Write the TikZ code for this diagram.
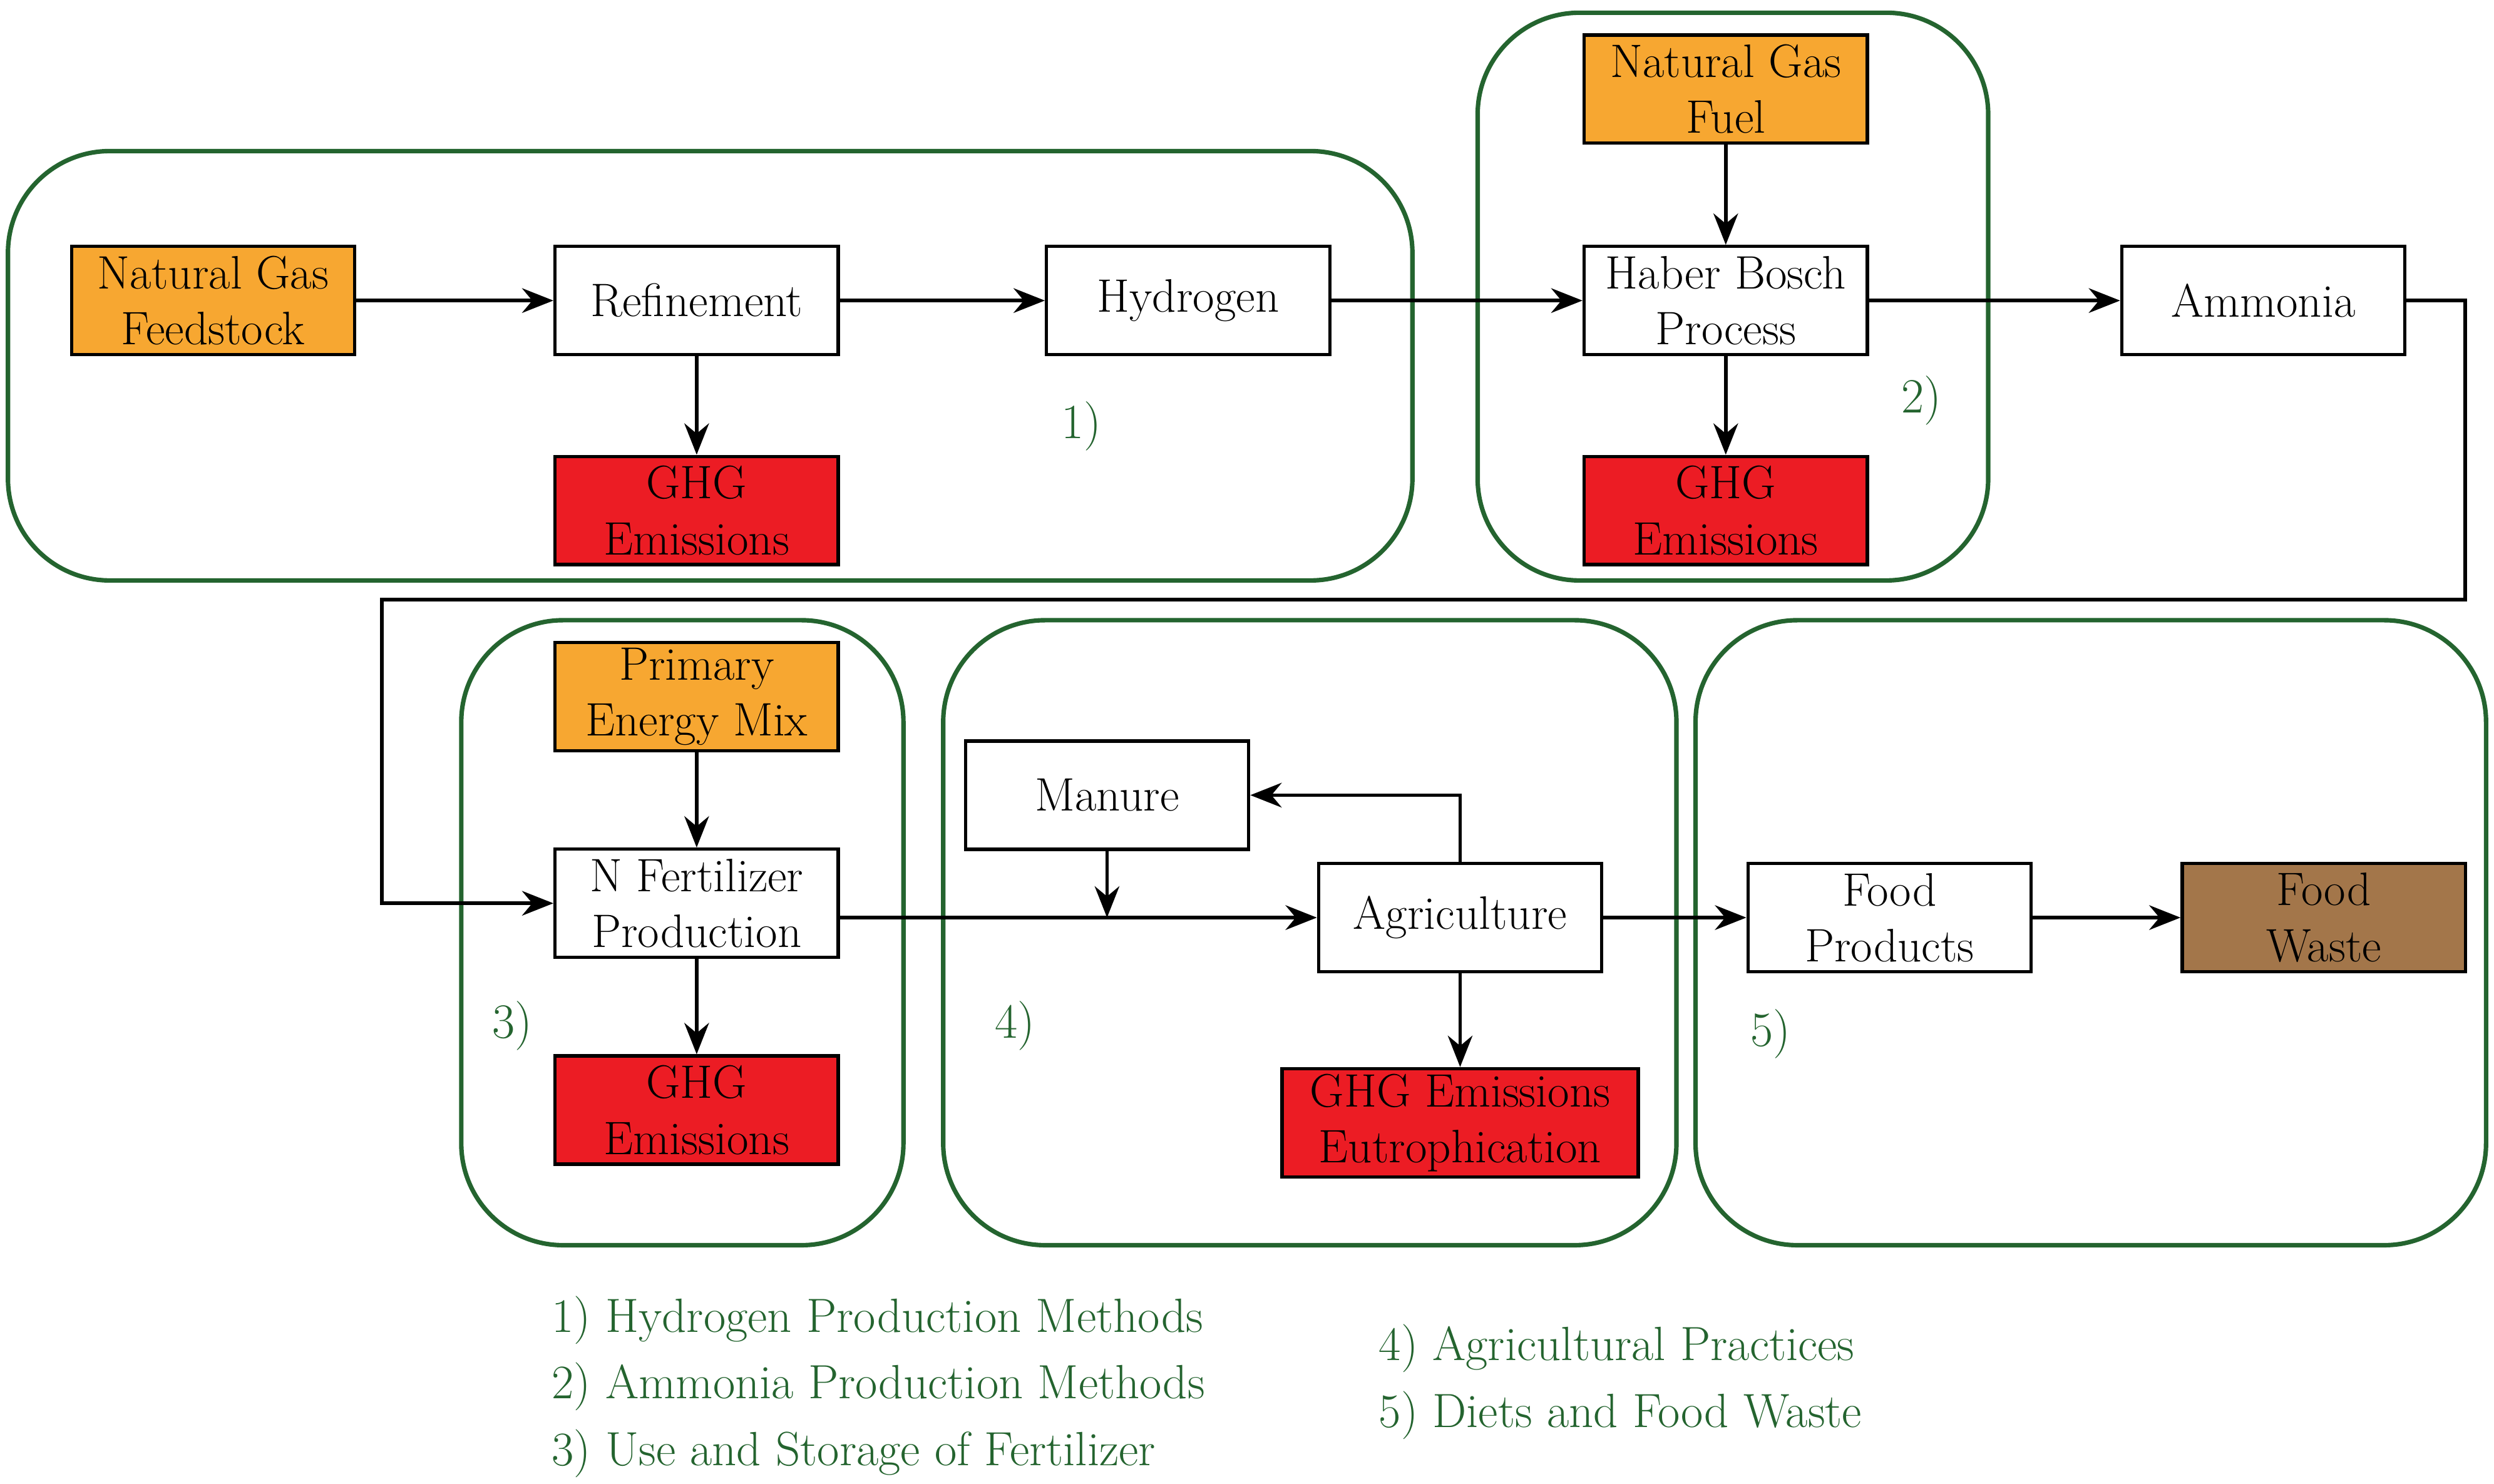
\documentclass[tikz,border=0pt]{standalone}
\usetikzlibrary{arrows.meta}
\definecolor{ora}{HTML}{F7A731}
\definecolor{rd}{HTML}{EC1C24}
\definecolor{brn}{HTML}{A3764A}
\definecolor{grn}{HTML}{24642F}
\begin{document}
\begin{tikzpicture}[x=0.025cm,y=-0.025cm,
  box/.style={draw=black,line width=1.5pt,minimum width=4.45cm,minimum height=1.7cm,inner sep=1pt,align=center,font=\fontsize{21}{25}\selectfont},
  grp/.style={draw=grn,line width=2pt,rounded corners=1.6cm},
  lab/.style={text=grn,font=\fontsize{22}{26}\selectfont},
  leg/.style={text=grn,font=\fontsize{21.5}{25}\selectfont,anchor=west},
  arr/.style={line width=1.6pt,-{Stealth[length=14pt,width=11pt]}},
  ln/.style={line width=1.6pt}]
\useasboundingbox (0,0) rectangle (1568,933);
\draw[grp] (5,95) rectangle (888,365);
\draw[grp] (929,8) rectangle (1250,365);
\draw[grp] (290,390) rectangle (568,783);
\draw[grp] (593,390) rectangle (1054,783);
\draw[grp] (1066,390) rectangle (1563,783);
\node[box,fill=ora] (ngf) at (134,189) {Natural Gas\\Feedstock};
\node[box,fill=white] (ref) at (438,189) {Refinement};
\node[box,fill=white] (hyd) at (747,189) {Hydrogen};
\node[box,fill=rd] (g1) at (438,321) {GHG\\Emissions};
\node[box,fill=ora] (ngfu) at (1085,56) {Natural Gas\\Fuel};
\node[box,fill=white] (hb) at (1085,189) {Haber Bosch\\Process};
\node[box,fill=rd] (g2) at (1085,321) {GHG\\Emissions};
\node[box,fill=white] (amm) at (1423,189) {Ammonia};
\node[box,fill=ora] (pem) at (438,438) {Primary\\Energy Mix};
\node[box,fill=white] (nf) at (438,568) {N Fertilizer\\Production};
\node[box,fill=rd] (g3) at (438,698) {GHG\\Emissions};
\node[box,fill=white] (man) at (696,500) {Manure};
\node[box,fill=white] (agr) at (918,577) {Agriculture};
\node[box,fill=rd,minimum width=5.6cm] (ge) at (918,706) {GHG Emissions\\Eutrophication};
\node[box,fill=white] (fp) at (1188,577) {Food\\Products};
\node[box,fill=brn] (fw) at (1461,577) {Food\\Waste};
\draw[arr] (ngf) -- (ref);
\draw[arr] (ref) -- (hyd);
\draw[arr] (ref) -- (g1);
\draw[arr] (hyd) -- (hb);
\draw[arr] (ngfu) -- (hb);
\draw[arr] (hb) -- (g2);
\draw[arr] (hb) -- (amm);
\coordinate (c1) at (1550,189);
\coordinate (c2) at (1550,377);
\coordinate (c3) at (240,377);
\coordinate (c4) at (240,568);
\draw[arr] (amm.east) -- (c1) -- (c2) -- (c3) -- (c4) -- (nf.west);
\draw[arr] (pem) -- (nf);
\draw[arr] (nf) -- (g3);
\coordinate (nfo) at (527,577);
\coordinate (mj) at (696,577);
\draw[arr] (nfo) -- (agr.west);
\draw[arr] (man.south) -- (mj);
\coordinate (at) at (918,500);
\draw[arr] (agr.north) -- (at) -- (man.east);
\draw[arr] (agr) -- (ge);
\draw[arr] (agr) -- (fp);
\draw[arr] (fp) -- (fw);
\node[lab] (l1) at (680,268) {1)};
\node[lab] (l2) at (1208,252) {2)};
\node[lab] (l3) at (322,645) {3)};
\node[lab] (l4) at (638,645) {4)};
\node[lab] (l5) at (1113,650) {5)};
\node[leg] (t1) at (342,830) {1) Hydrogen Production Methods};
\node[leg] (t2) at (342,872) {2) Ammonia Production Methods};
\node[leg] (t3) at (342,914) {3) Use and Storage of Fertilizer};
\node[leg] (t4) at (862,848) {4) Agricultural Practices};
\node[leg] (t5) at (862,890) {5) Diets and Food Waste};
\end{tikzpicture}
\end{document}
